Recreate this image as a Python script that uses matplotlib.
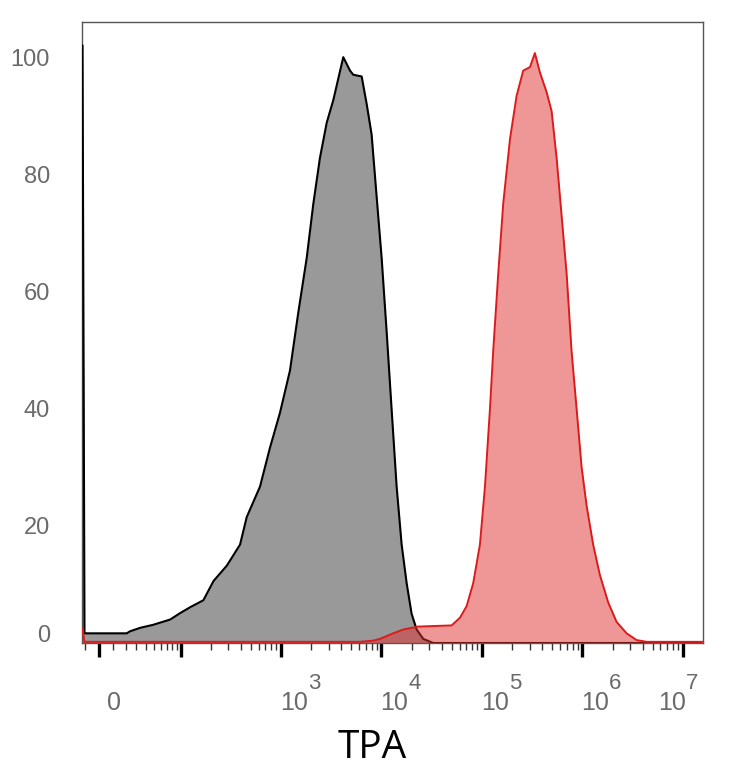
"""
TPA histogram, biexponential-like x axis
"""

import numpy as np
import matplotlib
matplotlib.use("Agg")
import matplotlib.pyplot as plt
import matplotlib.transforms as mtransforms
from matplotlib.ticker import FixedLocator, NullFormatter

# black (unstained / control) histogram, % of max
black_tpa = [-12.3, -12.0, -10.5, 21, 24, 34, 49, 76, 97, 123,
             168, 213, 289, 392, 457, 620, 778, 980, 1232, 1491,
             1808, 2102, 2449, 2860, 3330, 4182, 4879, 5252, 6372, 7150,
             8004, 8981, 10075, 11300, 12660, 14200, 15930, 17870, 20010, 22460,
             26150, 32840, 1.5e7]
black_pct = [102, 102, 1.65, 1.65, 2.0, 2.6, 3.1, 4.0, 5.1, 6.1,
             7.3, 10.6, 13.2, 16.8, 21.5, 26.7, 33.3, 39.3, 46.5, 56.4,
             65.7, 74.9, 82.8, 88.8, 92.7, 100, 97.7, 97.0, 96.7, 92,
             86.8, 76.2, 65.7, 53.1, 39.9, 26.7, 16.8, 10.2, 5.0, 2.3,
             0.7, 0, 0]

# red (TPA stained) histogram, % of max
red_tpa = [-12.3, -12.0, -10.5, 6123, 8308, 9690, 13130, 16520, 23300, 50060,
           60570, 70680, 82100, 95790, 107500, 120600, 129800, 145700, 163400, 190700,
           222000, 258400, 301500, 337600, 378700, 441900, 494800, 555100, 622800, 698700,
           782300, 877600, 984700, 1105000, 1283000, 1497000, 1813000, 2195000, 2762000, 3471000,
           4368000, 1.59e7]
red_pct = [2.5, 2.5, 0.2, 0.2, 0.4, 0.7, 1.65, 2.3, 2.8, 3.0,
           4.3, 6.3, 10.2, 16.8, 26.7, 40, 49.8, 63, 75, 86,
           93.4, 97.7, 98.3, 100.7, 97.4, 94, 90.8, 82.8, 72.9, 63,
           49.8, 40, 30, 23.4, 16.8, 11.6, 6.9, 3.6, 1.65, 0.5,
           0.2, 0.2]

y_ticks = [0, 20, 40, 60, 80, 100]
x_decades = [3, 4, 5, 6, 7]
x_label = "TPA"

# asinh ("biex") display transform
WIDTH = 31.0


def fwd(x):
    return np.arcsinh(np.asarray(x) / WIDTH) / np.log(10)


def inv(u):
    return WIDTH * np.sinh(np.asarray(u) * np.log(10))


fig = plt.figure(figsize=(7.34, 7.68), dpi=100)
ax = fig.add_axes([82 / 734, 1 - 643 / 768, 621 / 734, 621 / 768])
ax.set_xscale("function", functions=(fwd, inv))

ax.fill_between(black_tpa, 0, black_pct, color="#999999", lw=0, zorder=2)
ax.plot(black_tpa, black_pct, color="black", lw=1.5, zorder=3)
ax.fill_between(red_tpa, 0, red_pct, color="#e03030", alpha=0.5, lw=0, zorder=4)
ax.plot(red_tpa, red_pct, color="#dd1a1a", lw=1.4, zorder=5)

ax.set_xlim(-12.4, 1.59e7)
ax.set_ylim(0, 106)

for sp in ax.spines.values():
    sp.set_color("#555555")
    sp.set_linewidth(1.0)

# y axis: labels only
ax.set_yticks(y_ticks)
ax.set_yticklabels([str(v) for v in y_ticks])
ax.tick_params(axis="y", length=0, pad=23, labelsize=17, labelcolor="#6a6a6a")
for lbl in ax.get_yticklabels():
    lbl.set_family(["Liberation Sans", "DejaVu Sans"])
# the "0" label sits a little above the baseline
zero_lbl = ax.get_yticklabels()[0]
zero_lbl.set_transform(zero_lbl.get_transform()
                       + mtransforms.ScaledTranslation(0, 0.10, fig.dpi_scale_trans))

# x axis ticks
major = [0] + [10.0 ** d for d in range(2, 8)]
minor = [-10] + [m * 10.0 ** d for d in range(1, 7) for m in range(2 if d > 1 else 1, 10)]
ax.xaxis.set_major_locator(FixedLocator(major))
ax.xaxis.set_minor_locator(FixedLocator(minor))
ax.xaxis.set_major_formatter(NullFormatter())
ax.xaxis.set_minor_formatter(NullFormatter())
ax.tick_params(axis="x", which="major", length=10, width=2.4, color="black", direction="out")
ax.tick_params(axis="x", which="minor", length=5, width=1.0, color="#333333", direction="out")

lab_kw = dict(xycoords=("data", "axes fraction"), textcoords="offset pixels",
              color="#6a6a6a", family=["Liberation Sans", "DejaVu Sans"], va="baseline")
ax.annotate("0", (0, 0), xytext=(15, -67), ha="center", fontsize=18, **lab_kw)
for d in x_decades:
    shift = -25 if d == x_decades[-1] else -1
    ax.annotate("10", (10.0 ** d, 0), xytext=(shift, -67), ha="left", fontsize=18, **lab_kw)
    ax.annotate(str(d), (10.0 ** d, 0), xytext=(shift + 28, -46), ha="left", fontsize=16, **lab_kw)

fig.text(372 / 734, 1 - 758 / 768, x_label, ha="center", va="baseline",
         fontsize=28, family=["Open Sans", "DejaVu Sans"], color="black")

fig.savefig("out.png", dpi=100)
